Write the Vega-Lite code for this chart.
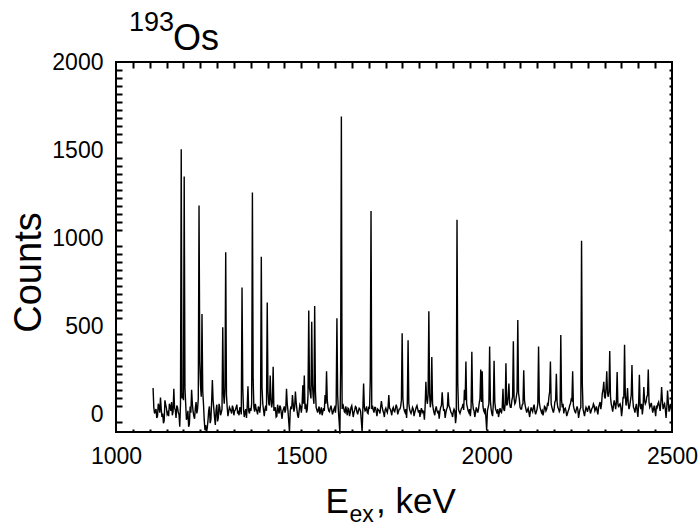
{
  "$schema": "https://vega.github.io/schema/vega-lite/v6.json",
  "width": 556,
  "height": 370,
  "autosize": {"type": "none"},
  "padding": {"left": 116, "top": 62, "right": 27, "bottom": 93},
  "background": "white",
  "config": {
    "view": {"stroke": "black", "strokeWidth": 2},
    "font": "Liberation Sans",
    "axis": {"labelFont": "Liberation Sans", "titleFont": "Liberation Sans", "labelColor": "black", "titleColor": "black", "titleFontWeight": "normal", "domain": false, "ticks": false, "labelOverlap": false, "labelFlush": false}
  },
  "title": {"text": "193", "fontSize": 27, "font": "Liberation Sans", "fontWeight": "normal", "color": "black", "anchor": "start", "frame": "group", "orient": "top", "offset": 0, "dx": 13, "dy": 17},
  "data": {"values": [
    {"E":1100,"c":150},{"E":1104,"c":5},{"E":1108,"c":30},{"E":1112,"c":-10},{"E":1116,"c":45},{"E":1120,"c":95},{"E":1124,"c":-15},{"E":1128,"c":-50},{"E":1132,"c":80},{"E":1136,"c":35},
    {"E":1140,"c":10},{"E":1144,"c":60},{"E":1148,"c":20},{"E":1152,"c":-5},{"E":1156,"c":145},{"E":1160,"c":25},{"E":1164,"c":50},{"E":1168,"c":10},{"E":1172,"c":-70},{"E":1176,"c":1505},
    {"E":1180,"c":120},{"E":1184,"c":1350},{"E":1188,"c":60},{"E":1192,"c":-20},{"E":1196,"c":-70},{"E":1200,"c":45},{"E":1204,"c":140},{"E":1208,"c":15},{"E":1212,"c":-25},{"E":1216,"c":70},
    {"E":1220,"c":30},{"E":1224,"c":1185},{"E":1228,"c":165},{"E":1232,"c":570},{"E":1236,"c":60},{"E":1240,"c":-90},{"E":1244,"c":-105},{"E":1248,"c":-40},{"E":1252,"c":45},{"E":1256,"c":-30},
    {"E":1260,"c":195},{"E":1264,"c":30},{"E":1268,"c":-60},{"E":1272,"c":55},{"E":1276,"c":-20},{"E":1280,"c":40},{"E":1284,"c":10},{"E":1288,"c":495},{"E":1292,"c":60},{"E":1296,"c":920},
    {"E":1300,"c":40},{"E":1304,"c":15},{"E":1308,"c":30},{"E":1312,"c":5},{"E":1316,"c":35},{"E":1320,"c":20},{"E":1324,"c":40},{"E":1328,"c":10},{"E":1332,"c":-5},{"E":1336,"c":30},
    {"E":1340,"c":720},{"E":1344,"c":30},{"E":1348,"c":10},{"E":1352,"c":-20},{"E":1356,"c":160},{"E":1360,"c":5},{"E":1364,"c":20},{"E":1368,"c":1260},{"E":1372,"c":40},{"E":1376,"c":60},
    {"E":1380,"c":20},{"E":1384,"c":45},{"E":1388,"c":10},{"E":1392,"c":895},{"E":1396,"c":60},{"E":1400,"c":-10},{"E":1404,"c":50},{"E":1408,"c":635},{"E":1412,"c":60},{"E":1416,"c":220},
    {"E":1420,"c":40},{"E":1424,"c":270},{"E":1428,"c":30},{"E":1432,"c":-15},{"E":1436,"c":55},{"E":1440,"c":5},{"E":1444,"c":40},{"E":1448,"c":-25},{"E":1452,"c":30},{"E":1456,"c":10},
    {"E":1460,"c":145},{"E":1464,"c":20},{"E":1468,"c":-100},{"E":1472,"c":45},{"E":1476,"c":110},{"E":1480,"c":15},{"E":1484,"c":130},{"E":1488,"c":30},{"E":1492,"c":-20},{"E":1496,"c":55},
    {"E":1500,"c":10},{"E":1504,"c":165},{"E":1508,"c":220},{"E":1512,"c":60},{"E":1516,"c":30},{"E":1520,"c":590},{"E":1524,"c":120},{"E":1528,"c":525},{"E":1532,"c":100},{"E":1536,"c":615},
    {"E":1540,"c":40},{"E":1544,"c":10},{"E":1548,"c":45},{"E":1552,"c":20},{"E":1556,"c":-5},{"E":1560,"c":35},{"E":1564,"c":110},{"E":1568,"c":245},{"E":1572,"c":40},{"E":1576,"c":15},
    {"E":1580,"c":50},{"E":1584,"c":0},{"E":1588,"c":30},{"E":1592,"c":10},{"E":1596,"c":545},{"E":1600,"c":20},{"E":1604,"c":-110},{"E":1608,"c":1690},{"E":1612,"c":60},{"E":1616,"c":15},
    {"E":1620,"c":45},{"E":1624,"c":-5},{"E":1628,"c":30},{"E":1632,"c":10},{"E":1636,"c":50},{"E":1640,"c":-15},{"E":1644,"c":25},{"E":1648,"c":40},{"E":1652,"c":0},{"E":1656,"c":35},
    {"E":1660,"c":15},{"E":1664,"c":-100},{"E":1668,"c":175},{"E":1672,"c":20},{"E":1676,"c":45},{"E":1680,"c":5},{"E":1684,"c":30},{"E":1688,"c":1155},{"E":1692,"c":50},{"E":1696,"c":10},
    {"E":1700,"c":40},{"E":1704,"c":-10},{"E":1708,"c":25},{"E":1712,"c":5},{"E":1716,"c":75},{"E":1720,"c":20},{"E":1724,"c":-15},{"E":1728,"c":35},{"E":1732,"c":10},{"E":1736,"c":110},
    {"E":1740,"c":30},{"E":1744,"c":-5},{"E":1748,"c":40},{"E":1752,"c":15},{"E":1756,"c":55},{"E":1760,"c":0},{"E":1764,"c":30},{"E":1768,"c":45},{"E":1772,"c":460},{"E":1776,"c":40},
    {"E":1780,"c":10},{"E":1784,"c":-20},{"E":1788,"c":420},{"E":1792,"c":30},{"E":1796,"c":5},{"E":1800,"c":40},{"E":1804,"c":-10},{"E":1808,"c":25},{"E":1812,"c":50},{"E":1816,"c":10},
    {"E":1820,"c":-15},{"E":1824,"c":35},{"E":1828,"c":20},{"E":1832,"c":-30},{"E":1836,"c":185},{"E":1840,"c":60},{"E":1844,"c":585},{"E":1848,"c":40},{"E":1852,"c":325},{"E":1856,"c":30},
    {"E":1860,"c":-5},{"E":1864,"c":45},{"E":1868,"c":10},{"E":1872,"c":-25},{"E":1876,"c":40},{"E":1880,"c":125},{"E":1884,"c":20},{"E":1888,"c":-20},{"E":1892,"c":30},{"E":1896,"c":125},
    {"E":1900,"c":40},{"E":1904,"c":10},{"E":1908,"c":-15},{"E":1912,"c":30},{"E":1916,"c":-50},{"E":1920,"c":1105},{"E":1924,"c":30},{"E":1928,"c":5},{"E":1932,"c":35},{"E":1936,"c":60},
    {"E":1940,"c":140},{"E":1944,"c":300},{"E":1948,"c":40},{"E":1952,"c":10},{"E":1956,"c":-10},{"E":1960,"c":355},{"E":1964,"c":30},{"E":1968,"c":-15},{"E":1972,"c":40},{"E":1976,"c":10},
    {"E":1980,"c":65},{"E":1984,"c":255},{"E":1988,"c":245},{"E":1992,"c":20},{"E":1996,"c":35},{"E":2000,"c":-90},{"E":2004,"c":40},{"E":2008,"c":385},{"E":2012,"c":30},{"E":2016,"c":-10},
    {"E":2020,"c":305},{"E":2024,"c":30},{"E":2028,"c":5},{"E":2032,"c":-15},{"E":2036,"c":35},{"E":2040,"c":10},{"E":2044,"c":145},{"E":2048,"c":20},{"E":2052,"c":290},{"E":2056,"c":60},
    {"E":2060,"c":175},{"E":2064,"c":40},{"E":2068,"c":80},{"E":2072,"c":415},{"E":2076,"c":60},{"E":2080,"c":100},{"E":2084,"c":535},{"E":2088,"c":90},{"E":2092,"c":30},{"E":2096,"c":55},
    {"E":2100,"c":250},{"E":2104,"c":50},{"E":2108,"c":10},{"E":2112,"c":35},{"E":2116,"c":-15},{"E":2120,"c":40},{"E":2124,"c":15},{"E":2128,"c":55},{"E":2132,"c":0},{"E":2136,"c":30},
    {"E":2140,"c":385},{"E":2144,"c":40},{"E":2148,"c":10},{"E":2152,"c":-5},{"E":2156,"c":45},{"E":2160,"c":20},{"E":2164,"c":60},{"E":2168,"c":100},{"E":2172,"c":300},{"E":2176,"c":40},
    {"E":2180,"c":10},{"E":2184,"c":70},{"E":2188,"c":230},{"E":2192,"c":40},{"E":2196,"c":15},{"E":2200,"c":450},{"E":2204,"c":40},{"E":2208,"c":5},{"E":2212,"c":35},{"E":2216,"c":-10},
    {"E":2220,"c":20},{"E":2224,"c":50},{"E":2228,"c":85},{"E":2232,"c":245},{"E":2236,"c":30},{"E":2240,"c":10},{"E":2244,"c":45},{"E":2248,"c":-20},{"E":2252,"c":30},{"E":2256,"c":985},
    {"E":2260,"c":30},{"E":2264,"c":-10},{"E":2268,"c":40},{"E":2272,"c":15},{"E":2276,"c":50},{"E":2280,"c":5},{"E":2284,"c":35},{"E":2288,"c":60},{"E":2292,"c":20},{"E":2296,"c":45},
    {"E":2300,"c":0},{"E":2304,"c":55},{"E":2308,"c":30},{"E":2312,"c":120},{"E":2316,"c":185},{"E":2320,"c":90},{"E":2324,"c":245},{"E":2328,"c":100},{"E":2332,"c":360},{"E":2336,"c":60},
    {"E":2340,"c":15},{"E":2344,"c":80},{"E":2348,"c":30},{"E":2352,"c":240},{"E":2356,"c":40},{"E":2360,"c":60},{"E":2364,"c":-10},{"E":2368,"c":100},{"E":2372,"c":395},{"E":2376,"c":50},
    {"E":2380,"c":150},{"E":2384,"c":30},{"E":2388,"c":80},{"E":2392,"c":280},{"E":2396,"c":40},{"E":2400,"c":10},{"E":2404,"c":60},{"E":2408,"c":-15},{"E":2412,"c":225},{"E":2416,"c":30},
    {"E":2420,"c":0},{"E":2424,"c":155},{"E":2428,"c":60},{"E":2432,"c":100},{"E":2436,"c":255},{"E":2440,"c":40},{"E":2444,"c":65},{"E":2448,"c":10},{"E":2452,"c":50},{"E":2456,"c":-10},
    {"E":2460,"c":40},{"E":2464,"c":70},{"E":2468,"c":20},{"E":2472,"c":155},{"E":2476,"c":30},{"E":2480,"c":60},{"E":2484,"c":-20},{"E":2488,"c":135},{"E":2492,"c":15},{"E":2496,"c":60},
    {"E":2500,"c":40},
    {"E":1102,"c":40},{"E":1106,"c":20},{"E":1110,"c":-20},{"E":1114,"c":60},{"E":1118,"c":10},{"E":1122,"c":30},{"E":1126,"c":5},{"E":1130,"c":-35},{"E":1134,"c":55},{"E":1138,"c":0},
    {"E":1142,"c":-10},{"E":1146,"c":45},{"E":1150,"c":70},{"E":1154,"c":15},{"E":1158,"c":35},{"E":1162,"c":-20},{"E":1166,"c":40},{"E":1170,"c":0},{"E":1174,"c":60},{"E":1178,"c":90},
    {"E":1182,"c":80},{"E":1186,"c":150},{"E":1190,"c":-30},{"E":1194,"c":20},{"E":1198,"c":-55},{"E":1202,"c":10},{"E":1206,"c":60},{"E":1210,"c":-10},{"E":1214,"c":35},{"E":1218,"c":5},
    {"E":1222,"c":90},{"E":1226,"c":300},{"E":1230,"c":100},{"E":1234,"c":130},{"E":1238,"c":-30},{"E":1242,"c":-60},{"E":1246,"c":-80},{"E":1250,"c":20},{"E":1254,"c":-50},{"E":1258,"c":70},
    {"E":1262,"c":80},{"E":1266,"c":-20},{"E":1270,"c":25},{"E":1274,"c":-40},{"E":1278,"c":60},{"E":1282,"c":-5},{"E":1286,"c":30},{"E":1290,"c":120},{"E":1294,"c":150},{"E":1298,"c":110},
    {"E":1302,"c":-10},{"E":1306,"c":40},{"E":1310,"c":20},{"E":1314,"c":50},{"E":1318,"c":-5},{"E":1322,"c":25},{"E":1326,"c":55},{"E":1330,"c":15},{"E":1334,"c":40},{"E":1338,"c":0},
    {"E":1342,"c":150},{"E":1346,"c":-15},{"E":1350,"c":30},{"E":1354,"c":45},{"E":1358,"c":20},{"E":1362,"c":35},{"E":1366,"c":60},{"E":1370,"c":200},{"E":1374,"c":15},{"E":1378,"c":30},
    {"E":1382,"c":0},{"E":1386,"c":35},{"E":1390,"c":60},{"E":1394,"c":150},{"E":1398,"c":25},{"E":1402,"c":30},{"E":1406,"c":20},{"E":1410,"c":130},{"E":1414,"c":50},{"E":1418,"c":90},
    {"E":1422,"c":70},{"E":1426,"c":20},{"E":1430,"c":40},{"E":1434,"c":-10},{"E":1438,"c":25},{"E":1442,"c":50},{"E":1446,"c":5},{"E":1450,"c":20},{"E":1454,"c":45},{"E":1458,"c":30},
    {"E":1462,"c":60},{"E":1466,"c":-40},{"E":1470,"c":20},{"E":1474,"c":30},{"E":1478,"c":60},{"E":1482,"c":40},{"E":1486,"c":70},{"E":1490,"c":-5},{"E":1494,"c":20},{"E":1498,"c":45},
    {"E":1502,"c":50},{"E":1506,"c":60},{"E":1510,"c":30},{"E":1514,"c":10},{"E":1518,"c":110},{"E":1522,"c":150},{"E":1526,"c":90},{"E":1530,"c":170},{"E":1534,"c":60},{"E":1538,"c":130},
    {"E":1542,"c":25},{"E":1546,"c":30},{"E":1550,"c":0},{"E":1554,"c":40},{"E":1558,"c":15},{"E":1562,"c":20},{"E":1566,"c":60},{"E":1570,"c":80},{"E":1574,"c":20},{"E":1578,"c":35},
    {"E":1582,"c":25},{"E":1586,"c":15},{"E":1590,"c":40},{"E":1594,"c":60},{"E":1598,"c":110},{"E":1602,"c":-40},{"E":1606,"c":250},{"E":1610,"c":30},{"E":1614,"c":40},{"E":1618,"c":10},
    {"E":1622,"c":20},{"E":1626,"c":35},{"E":1630,"c":-10},{"E":1634,"c":40},{"E":1638,"c":20},{"E":1642,"c":10},{"E":1646,"c":45},{"E":1650,"c":15},{"E":1654,"c":20},{"E":1658,"c":30},
    {"E":1662,"c":-40},{"E":1666,"c":30},{"E":1670,"c":40},{"E":1674,"c":25},{"E":1678,"c":10},{"E":1682,"c":45},{"E":1686,"c":200},{"E":1690,"c":30},{"E":1694,"c":25},{"E":1698,"c":40},
    {"E":1702,"c":15},{"E":1706,"c":30},{"E":1710,"c":20},{"E":1714,"c":40},{"E":1718,"c":45},{"E":1722,"c":10},{"E":1726,"c":25},{"E":1730,"c":20},{"E":1734,"c":40},{"E":1738,"c":35},
    {"E":1742,"c":15},{"E":1746,"c":30},{"E":1750,"c":20},{"E":1754,"c":35},{"E":1758,"c":40},{"E":1762,"c":15},{"E":1766,"c":30},{"E":1770,"c":80},{"E":1774,"c":90},{"E":1778,"c":20},
    {"E":1782,"c":30},{"E":1786,"c":70},{"E":1790,"c":60},{"E":1794,"c":15},{"E":1798,"c":20},{"E":1802,"c":30},{"E":1806,"c":10},{"E":1810,"c":40},{"E":1814,"c":30},{"E":1818,"c":25},
    {"E":1822,"c":20},{"E":1826,"c":10},{"E":1830,"c":15},{"E":1834,"c":45},{"E":1838,"c":90},{"E":1842,"c":110},{"E":1846,"c":120},{"E":1850,"c":80},{"E":1854,"c":60},{"E":1858,"c":10},
    {"E":1862,"c":30},{"E":1866,"c":20},{"E":1870,"c":15},{"E":1874,"c":20},{"E":1878,"c":50},{"E":1882,"c":60},{"E":1886,"c":30},{"E":1890,"c":10},{"E":1894,"c":40},{"E":1898,"c":50},
    {"E":1902,"c":25},{"E":1906,"c":5},{"E":1910,"c":15},{"E":1914,"c":20},{"E":1918,"c":-10},{"E":1922,"c":180},{"E":1926,"c":15},{"E":1930,"c":20},{"E":1934,"c":40},{"E":1938,"c":25},
    {"E":1942,"c":80},{"E":1946,"c":60},{"E":1950,"c":20},{"E":1954,"c":30},{"E":1958,"c":40},{"E":1962,"c":70},{"E":1966,"c":20},{"E":1970,"c":10},{"E":1974,"c":25},{"E":1978,"c":30},
    {"E":1982,"c":90},{"E":1986,"c":70},{"E":1990,"c":45},{"E":1994,"c":10},{"E":1998,"c":-20},{"E":2002,"c":20},{"E":2006,"c":60},{"E":2010,"c":80},{"E":2014,"c":5},{"E":2018,"c":60},
    {"E":2022,"c":70},{"E":2026,"c":20},{"E":2030,"c":30},{"E":2034,"c":10},{"E":2038,"c":15},{"E":2042,"c":40},{"E":2046,"c":30},{"E":2050,"c":60},{"E":2054,"c":50},{"E":2058,"c":100},
    {"E":2062,"c":60},{"E":2066,"c":40},{"E":2070,"c":100},{"E":2074,"c":90},{"E":2078,"c":70},{"E":2082,"c":130},{"E":2086,"c":120},{"E":2090,"c":40},{"E":2094,"c":30},{"E":2098,"c":60},
    {"E":2102,"c":80},{"E":2106,"c":30},{"E":2110,"c":25},{"E":2114,"c":10},{"E":2118,"c":20},{"E":2122,"c":25},{"E":2126,"c":40},{"E":2130,"c":20},{"E":2134,"c":15},{"E":2138,"c":60},
    {"E":2142,"c":70},{"E":2146,"c":25},{"E":2150,"c":20},{"E":2154,"c":15},{"E":2158,"c":40},{"E":2162,"c":30},{"E":2166,"c":55},{"E":2170,"c":130},{"E":2174,"c":60},{"E":2178,"c":25},
    {"E":2182,"c":30},{"E":2186,"c":80},{"E":2190,"c":70},{"E":2194,"c":30},{"E":2198,"c":25},{"E":2202,"c":80},{"E":2206,"c":60},{"E":2210,"c":30},{"E":2214,"c":20},{"E":2218,"c":5},
    {"E":2222,"c":30},{"E":2226,"c":60},{"E":2230,"c":80},{"E":2234,"c":50},{"E":2238,"c":15},{"E":2242,"c":30},{"E":2246,"c":25},{"E":2250,"c":10},{"E":2254,"c":40},{"E":2258,"c":180},
    {"E":2262,"c":10},{"E":2266,"c":20},{"E":2270,"c":30},{"E":2274,"c":35},{"E":2278,"c":30},{"E":2282,"c":20},{"E":2286,"c":40},{"E":2290,"c":50},{"E":2294,"c":30},{"E":2298,"c":20},
    {"E":2302,"c":40},{"E":2306,"c":70},{"E":2310,"c":60},{"E":2314,"c":140},{"E":2318,"c":100},{"E":2322,"c":150},{"E":2326,"c":120},{"E":2330,"c":130},{"E":2334,"c":100},{"E":2338,"c":40},
    {"E":2342,"c":50},{"E":2346,"c":60},{"E":2350,"c":70},{"E":2354,"c":60},{"E":2358,"c":55},{"E":2362,"c":40},{"E":2366,"c":30},{"E":2370,"c":90},{"E":2374,"c":110},{"E":2378,"c":80},
    {"E":2382,"c":60},{"E":2386,"c":50},{"E":2390,"c":110},{"E":2394,"c":90},{"E":2398,"c":30},{"E":2402,"c":40},{"E":2406,"c":20},{"E":2410,"c":60},{"E":2414,"c":50},{"E":2418,"c":60},
    {"E":2422,"c":40},{"E":2426,"c":80},{"E":2430,"c":70},{"E":2434,"c":110},{"E":2438,"c":70},{"E":2442,"c":50},{"E":2446,"c":40},{"E":2450,"c":30},{"E":2454,"c":20},{"E":2458,"c":50},
    {"E":2462,"c":60},{"E":2466,"c":45},{"E":2470,"c":70},{"E":2474,"c":80},{"E":2478,"c":50},{"E":2482,"c":30},{"E":2486,"c":40},{"E":2490,"c":70},{"E":2494,"c":40},{"E":2498,"c":30}
  ]},
  "layer": [
    {
      "mark": {"type": "line", "color": "black", "strokeWidth": 1.4},
      "encoding": {
        "x": {"field": "E", "type": "quantitative",
          "scale": {"domain": [1000, 2500], "nice": false, "zero": false},
          "axis": {"orient": "bottom", "values": [1000, 1500, 2000, 2500], "grid": false,
            "format": "d", "labelFontSize": 23, "labelPadding": 13,
            "title": "E\u2002\u00a0, keV", "titleFontSize": 35,
            "titleAnchor": "start", "titleAlign": "left", "titleBaseline": "alphabetic",
            "titleX": 209, "titleY": 80}
        },
        "y": {"field": "c", "type": "quantitative",
          "scale": {"domain": [-100, 2000], "nice": false, "zero": false},
          "axis": {"orient": "left", "values": [0, 500, 1000, 1500, 2000], "grid": false,
            "format": "d", "labelFontSize": 23, "labelPadding": 13,
            "title": "Counts", "titleFontSize": 38,
            "titleAngle": 270, "titleAlign": "center", "titleBaseline": "alphabetic",
            "titleX": -76, "titleY": 210}
        }
      }
    },
    {
      "mark": {"type": "point", "opacity": 0},
      "encoding": {
        "x": {"field": "E", "type": "quantitative",
          "axis": {"orient": "top", "labels": false,
            "grid": true, "gridColor": "#000000", "gridWidth": 2, "gridOpacity": 1, "gridDash": [3, 361, 6, 100],
            "values": [1045.45,1090.91,1136.36,1181.82,1227.27,1272.73,1318.18,1363.64,1409.09,1454.55,1500,1545.45,1590.91,1636.36,1681.82,1727.27,1772.73,1818.18,1863.64,1909.09,1954.55,2000,2045.45,2090.91,2136.36,2181.82,2227.27,2272.73,2318.18,2363.64,2409.09,2454.55],
            "title": "Os", "titleFontSize": 36,
            "titleAnchor": "start", "titleAlign": "left", "titleBaseline": "alphabetic", "titleAngle": 0,
            "titleX": 56.6, "titleY": -13}
        },
        "y": {"field": "c", "type": "quantitative",
          "axis": {"orient": "right", "labels": false,
            "grid": true, "gridColor": "#000000", "gridWidth": 2, "gridOpacity": 1, "gridDash": [3, 547, 6, 100],
            "values": [-45.45,45.45,90.91,136.36,181.82,227.27,272.73,318.18,363.64,409.09,454.55,545.45,590.91,636.36,681.82,727.27,772.73,818.18,863.64,909.09,954.55,1045.45,1090.91,1136.36,1181.82,1227.27,1272.73,1318.18,1363.64,1409.09,1454.55,1545.45,1590.91,1636.36,1681.82,1727.27,1772.73,1818.18,1863.64,1909.09,1954.55],
            "title": "ex", "titleFontSize": 23,
            "titleAnchor": "start", "titleAlign": "left", "titleBaseline": "alphabetic", "titleAngle": 0,
            "titleX": -323, "titleY": 459}
        }
      }
    }
  ],
  "resolve": {"axis": {"x": "independent", "y": "independent"}}
}
